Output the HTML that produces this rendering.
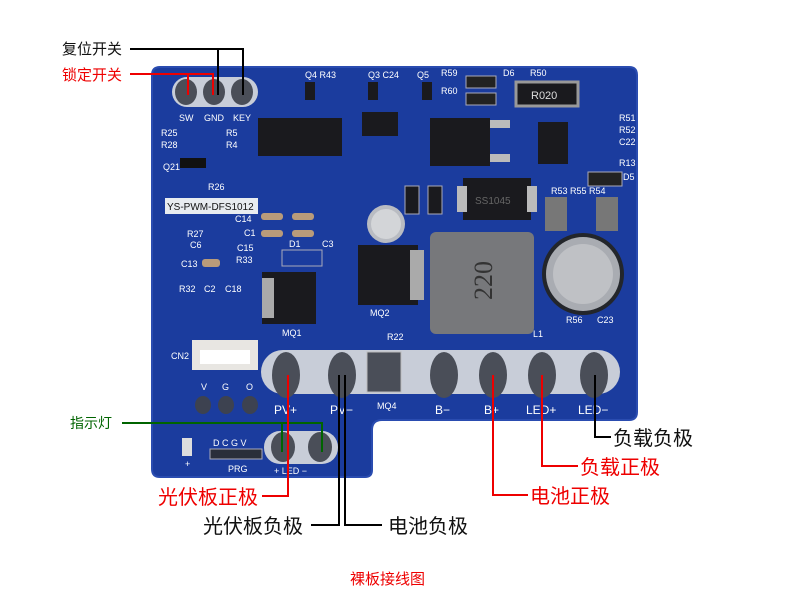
<!DOCTYPE html>
<html><head><meta charset="utf-8"><style>
body{margin:0;background:#fff;width:790px;height:604px;overflow:hidden}
svg{display:block}
.cn{font-family:"Liberation Sans","Noto Sans CJK SC",sans-serif}
.s{font-family:"Liberation Sans",sans-serif;fill:#fff;font-size:9px}
</style></head><body>
<svg width="790" height="604" viewBox="0 0 790 604" xmlns="http://www.w3.org/2000/svg">
<!-- board -->
<path d="M160 67 H629 Q637 67 637 75 V412 Q637 420 629 420 H382 Q372 420 372 430 V470 Q372 477 365 477 H160 Q152 477 152 469 V75 Q152 67 160 67Z" fill="#1b3c9e"/>
<path d="M160 67 H629 Q637 67 637 75 V412 Q637 420 629 420 H382 Q372 420 372 430 V470 Q372 477 365 477 H160 Q152 477 152 469 V75 Q152 67 160 67Z" fill="none" stroke="#2a4cb0" stroke-width="2"/>
<!-- top pads -->
<rect x="172" y="77" width="86" height="30" rx="15" fill="#c8cdd8"/>
<ellipse cx="186" cy="92" rx="11" ry="13" fill="#4a4e58"/>
<ellipse cx="214" cy="92" rx="11" ry="13" fill="#4a4e58"/>
<ellipse cx="242" cy="92" rx="11" ry="13" fill="#4a4e58"/>
<text class="s" x="179" y="121">SW</text><text class="s" x="204" y="121">GND</text><text class="s" x="233" y="121">KEY</text>
<text class="s" x="161" y="136">R25</text><text class="s" x="161" y="148">R28</text>
<text class="s" x="226" y="136">R5</text><text class="s" x="226" y="148">R4</text>
<text class="s" x="163" y="170">Q21</text><text class="s" x="208" y="190">R26</text>
<rect x="180" y="158" width="26" height="10" fill="#111"/>
<!-- label -->
<rect x="165" y="198" width="93" height="16" fill="#e8ecf0"/>
<text x="167" y="210" font-family="Liberation Sans,sans-serif" font-size="10" fill="#111">YS-PWM-DFS1012</text>
<text class="s" x="235" y="222">C14</text><text class="s" x="244" y="236">C1</text>
<text class="s" x="187" y="237">R27</text><text class="s" x="190" y="248">C6</text>
<text class="s" x="237" y="251">C15</text><text class="s" x="236" y="263">R33</text>
<text class="s" x="181" y="267">C13</text>
<text class="s" x="179" y="292">R32</text><text class="s" x="204" y="292">C2</text><text class="s" x="225" y="292">C18</text>
<rect x="261" y="213" width="22" height="7" rx="3" fill="#b99b7a"/><rect x="261" y="230" width="22" height="7" rx="3" fill="#b99b7a"/>
<rect x="292" y="213" width="22" height="7" rx="3" fill="#b99b7a"/><rect x="292" y="230" width="22" height="7" rx="3" fill="#b99b7a"/>
<rect x="202" y="259" width="18" height="8" rx="3" fill="#b99b7a"/>
<!-- IC -->
<rect x="258" y="118" width="84" height="38" fill="#1a1a1e"/>
<rect x="362" y="112" width="36" height="24" fill="#1a1a1e"/>
<text class="s" x="305" y="78">Q4 R43</text><text class="s" x="368" y="78">Q3 C24</text><text class="s" x="417" y="78">Q5</text>
<rect x="305" y="82" width="10" height="18" fill="#1a1a1e"/><rect x="368" y="82" width="10" height="18" fill="#1a1a1e"/><rect x="422" y="82" width="10" height="18" fill="#1a1a1e"/>
<text class="s" x="441" y="76">R59</text><text class="s" x="441" y="94">R60</text><text class="s" x="503" y="76">D6</text><text class="s" x="530" y="76">R50</text>
<rect x="466" y="76" width="30" height="12" fill="#222" stroke="#aab" /><rect x="466" y="93" width="30" height="12" fill="#222" stroke="#aab"/>
<rect x="516" y="82" width="62" height="24" fill="#1a1a1e" stroke="#999" stroke-width="3"/>
<text x="531" y="99" font-family="Liberation Sans,sans-serif" font-size="11" fill="#ddd">R020</text>
<rect x="430" y="118" width="60" height="48" fill="#1a1a1e"/>
<rect x="490" y="120" width="20" height="8" fill="#bbb"/><rect x="490" y="154" width="20" height="8" fill="#bbb"/>
<rect x="538" y="122" width="30" height="42" fill="#1a1a1e"/>
<text class="s" x="619" y="121">R51</text><text class="s" x="619" y="133">R52</text><text class="s" x="619" y="145">C22</text><text class="s" x="619" y="166">R13</text><text class="s" x="623" y="180">D5</text>
<rect x="588" y="172" width="34" height="14" fill="#222" stroke="#aab"/>
<text class="s" x="551" y="194">R53 R55 R54</text>
<rect x="545" y="197" width="22" height="34" fill="#777"/><rect x="596" y="197" width="22" height="34" fill="#777"/>
<rect x="463" y="178" width="68" height="42" fill="#1a1a1e"/>
<rect x="457" y="186" width="10" height="26" fill="#bbb"/><rect x="527" y="186" width="10" height="26" fill="#bbb"/>
<text x="475" y="204" font-family="Liberation Sans,sans-serif" font-size="10" fill="#666">SS1045</text>
<rect x="428" y="186" width="14" height="28" fill="#1a1a1e" stroke="#aab"/>
<rect x="405" y="186" width="14" height="28" fill="#1a1a1e" stroke="#aab"/>
<!-- small cap -->
<circle cx="386" cy="224" r="19" fill="#b9bcc2"/><circle cx="386" cy="224" r="15" fill="#d3d5d8"/>
<!-- inductor -->
<rect x="430" y="232" width="104" height="102" rx="6" fill="#77787b"/>
<text x="0" y="0" font-family="Liberation Serif,serif" font-size="26" fill="#333" transform="translate(492 300) rotate(-90)">220</text>
<!-- big cap -->
<circle cx="583" cy="274" r="41" fill="#23262b"/>
<circle cx="583" cy="274" r="37" fill="#a9acb2"/><circle cx="583" cy="274" r="30" fill="#bfc1c5"/>
<text class="s" x="566" y="323">R56</text><text class="s" x="597" y="323">C23</text>
<!-- MOSFETs -->
<rect x="262" y="272" width="54" height="52" fill="#1a1a1e"/>
<rect x="262" y="278" width="12" height="40" fill="#aaa"/>
<rect x="358" y="245" width="60" height="60" fill="#1a1a1e"/>
<rect x="410" y="250" width="14" height="50" fill="#aaa"/>
<text class="s" x="282" y="336">MQ1</text><text class="s" x="370" y="316">MQ2</text><text class="s" x="387" y="340">R22</text><text class="s" x="533" y="337">L1</text>
<text class="s" x="289" y="247">D1</text><text class="s" x="322" y="247">C3</text>
<rect x="282" y="250" width="40" height="16" fill="none" stroke="#aab"/>
<!-- CN2 -->
<text class="s" x="171" y="359">CN2</text>
<rect x="192" y="340" width="66" height="30" fill="#e8e6e2"/>
<rect x="200" y="350" width="50" height="14" fill="#fff"/>
<text class="s" x="201" y="390">V</text><text class="s" x="222" y="390">G</text><text class="s" x="246" y="390">O</text>
<ellipse cx="203" cy="405" rx="8" ry="9" fill="#3d4250"/><ellipse cx="226" cy="405" rx="8" ry="9" fill="#3d4250"/><ellipse cx="250" cy="405" rx="8" ry="9" fill="#3d4250"/>
<!-- bottom pads -->
<rect x="261" y="350" width="359" height="44" rx="22" fill="#c8cdd8"/>
<ellipse cx="286" cy="375" rx="14" ry="23" fill="#4a4e58"/>
<ellipse cx="342" cy="375" rx="14" ry="23" fill="#4a4e58"/>
<rect x="367" y="352" width="34" height="40" fill="#4a4e58" stroke="#bbb"/>
<ellipse cx="444" cy="375" rx="14" ry="23" fill="#4a4e58"/>
<ellipse cx="493" cy="375" rx="14" ry="23" fill="#4a4e58"/>
<ellipse cx="542" cy="375" rx="14" ry="23" fill="#4a4e58"/>
<ellipse cx="594" cy="375" rx="14" ry="23" fill="#4a4e58"/>
<g font-family="Liberation Sans,sans-serif" font-size="12" fill="#fff">
<text x="274" y="414">PV+</text><text x="330" y="414">PV−</text><text x="435" y="414">B−</text><text x="484" y="414">B+</text><text x="526" y="414">LED+</text><text x="578" y="414">LED−</text></g>
<text class="s" x="377" y="409">MQ4</text>
<!-- LED area -->
<rect x="182" y="438" width="10" height="18" fill="#ddd"/>
<text class="s" x="185" y="467">+</text>
<text class="s" x="213" y="446">D C G V</text>
<rect x="210" y="449" width="52" height="10" fill="#2a2e3a" stroke="#aab"/>
<text class="s" x="228" y="472">PRG</text>
<rect x="264" y="431" width="74" height="33" rx="16" fill="#c8cdd8"/>
<ellipse cx="283" cy="447" rx="12" ry="15" fill="#4a4e58"/><ellipse cx="320" cy="447" rx="12" ry="15" fill="#4a4e58"/>
<text class="s" x="274" y="474">+ LED −</text>
<!-- callout lines -->
<g fill="none" stroke-width="2">
<path d="M130 49 H243 V95 M218 49 V95" stroke="#000"/>
<path d="M130 74 H213 V95 M188 74 V95" stroke="#e00"/>
<path d="M122 423 H322 V452 M282 423 V452" stroke="#006400"/>
<path d="M262 496 H288 V375" stroke="#e00"/>
<path d="M311 525 H339 V375 M345 375 V525 H382" stroke="#000"/>
<path d="M493 375 V495 H528" stroke="#e00"/>
<path d="M542 375 V466 H578" stroke="#e00"/>
<path d="M595 375 V437 H611" stroke="#000"/>
</g>
<g class="cn">
<text x="62" y="54" font-size="15" fill="#111">复位开关</text>
<text x="62" y="80" font-size="15" fill="#e00">锁定开关</text>
<text x="70" y="428" font-size="14" fill="#006400">指示灯</text>
<text x="158" y="504" font-size="20" fill="#e00">光伏板正极</text>
<text x="203" y="533" font-size="20" fill="#111">光伏板负极</text>
<text x="388" y="533" font-size="20" fill="#111">电池负极</text>
<text x="530" y="503" font-size="20" fill="#e00">电池正极</text>
<text x="580" y="474" font-size="20" fill="#e00">负载正极</text>
<text x="613" y="445" font-size="20" fill="#111">负载负极</text>
<text x="350" y="584" font-size="15" fill="#e00">裸板接线图</text>
</g>
</svg>
</body></html>
